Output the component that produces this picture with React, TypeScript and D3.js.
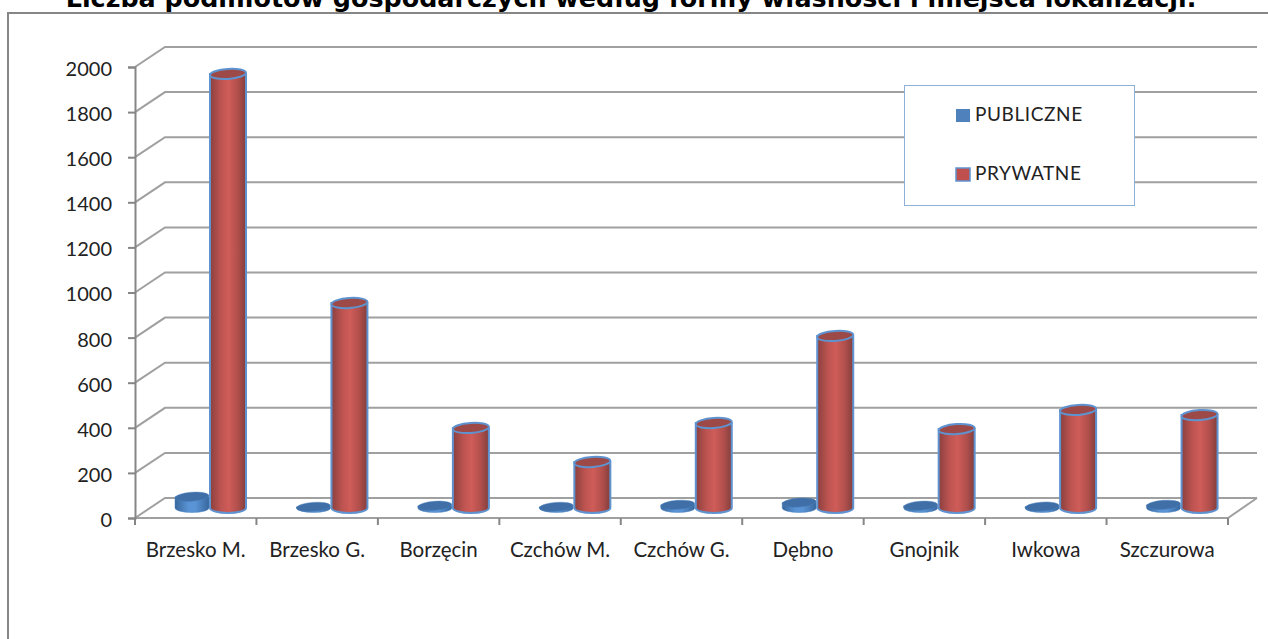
/**
 * 3D-look cylinder column chart: entities by ownership and location
 */
import { useEffect, useRef } from 'react';
import * as d3 from 'd3';

const categories = ['Brzesko M.', 'Brzesko G.', 'Borzęcin', 'Czchów M.', 'Czchów G.', 'Dębno', 'Gnojnik', 'Iwkowa', 'Szczurowa'];
const publiczne = [50, 5, 10, 5, 14, 24, 10, 6, 14];
const prywatne = [1925, 909, 355, 204, 377, 763, 350, 435, 412];
const yTicks = [0, 200, 400, 600, 800, 1000, 1200, 1400, 1600, 1800, 2000];
const seriesNames = ['PUBLICZNE', 'PRYWATNE'];
const title = 'Liczba podmiotów gospodarczych według formy własności i miejsca lokalizacji.';

const WIDTH = 1268;
const HEIGHT = 639;
const LABEL_FONT = 'Lato, "Open Sans", sans-serif';

export default function App() {
  const svgRef = useRef<SVGSVGElement>(null);

  useEffect(() => {
    if (!svgRef.current) return;
    const svg = d3.select(svgRef.current);
    svg.selectAll('*').remove();

    const x = d3.scaleBand<string>().domain(categories).range([135, 1228]);
    const y = d3.scaleLinear().domain([0, 2000]).range([518, 67]);
    const depthX = 30;
    const depthY = -20;
    const barPlane = -10; // bars stand between front edge and back wall

    const defs = svg.append('defs');
    const cyl = (id: string, stops: [number, string][]) => {
      const g = defs.append('linearGradient').attr('id', id);
      stops.forEach(([o, c]) => g.append('stop').attr('offset', `${o}%`).attr('stop-color', c));
    };
    cyl('red-side', [[0, '#8a403e'], [30, '#bd5451'], [52, '#cf5c58'], [78, '#b04f4c'], [100, '#823e3c']]);
    cyl('blue-side', [[0, '#38679d'], [40, '#5a94d6'], [60, '#5a94d6'], [100, '#38679d']]);

    // Outer frame, open on the right and at the bottom
    svg.append('path')
      .attr('d', `M8,${HEIGHT}V13H${WIDTH}`)
      .attr('fill', 'none')
      .attr('stroke', '#868686')
      .attr('stroke-width', 2);

    svg.append('text')
      .attr('x', 631)
      .attr('y', 7)
      .attr('text-anchor', 'middle')
      .style('font-family', '"DejaVu Sans", Verdana, sans-serif')
      .style('font-weight', 700)
      .style('font-size', '25.4px')
      .text(title);

    // Gridlines: side wall diagonal then back wall
    svg.append('g')
      .selectAll('path')
      .data(yTicks)
      .join('path')
      .attr('d', d => `M135,${y(d)}L${135 + depthX},${y(d) + depthY}H1257`)
      .attr('fill', 'none')
      .attr('stroke', '#a0a0a0')
      .attr('stroke-width', 2);

    // Floor front and right edges
    svg.append('path')
      .attr('d', `M135,${y(0)}H1228L1257,${y(0) + depthY}`)
      .attr('fill', 'none')
      .attr('stroke', '#a0a0a0')
      .attr('stroke-width', 2);

    const yAxis = d3.axisLeft(y).tickValues(yTicks).tickSize(7).tickPadding(16).tickFormat(d3.format('d') as any);
    const yG = svg.append('g').attr('transform', 'translate(135,0)').call(yAxis);
    const xAxis = d3.axisBottom(x).tickSize(0).tickPadding(24);
    const xG = svg.append('g').attr('transform', `translate(0,${y(0)})`).call(xAxis);
    xG.select('.domain').remove();
    yG.select('.domain').attr('stroke', '#868686').attr('stroke-width', 2);
    yG.selectAll('line').attr('stroke', '#868686').attr('stroke-width', 2);
    yG.selectAll('text').attr('dy', '0.42em').style('font-family', LABEL_FONT).style('font-size', '20px').attr('fill', '#222');
    xG.selectAll('text').style('font-family', LABEL_FONT).style('font-size', '20.5px').attr('fill', '#222');

    // Category separators on the floor edge
    svg.append('g')
      .selectAll('line')
      .data(d3.range(categories.length + 1))
      .join('line')
      .attr('x1', i => 135 + i * x.step())
      .attr('x2', i => 135 + i * x.step())
      .attr('y1', y(0))
      .attr('y2', y(0) + 7)
      .attr('stroke', '#868686')
      .attr('stroke-width', 2);

    // A cylinder: side + bottom arc as one path, lid as an ellipse
    const drawCylinder = (
      g: d3.Selection<SVGGElement, unknown, null, undefined>,
      cx: number, base: number, top: number, rx: number, ry: number,
      side: string, lid: string, stroke: string, strokeW: number,
    ) => {
      g.append('path')
        .attr('d', `M${cx - rx},${top}V${base}A${rx},${ry} 0 0 0 ${cx + rx},${base}V${top}Z`)
        .attr('fill', `url(#${side})`)
        .attr('stroke', stroke)
        .attr('stroke-width', strokeW);
      g.append('ellipse')
        .attr('cx', cx)
        .attr('cy', top)
        .attr('rx', rx)
        .attr('ry', ry)
        .attr('transform', `rotate(-4 ${cx} ${top})`)
        .attr('fill', lid)
        .attr('stroke', stroke)
        .attr('stroke-width', strokeW);
    };

    const bars = svg.append('g');
    categories.forEach((cat, i) => {
      const left = x(cat)! + 40;
      drawCylinder(bars, left + 17, y(0) + barPlane, y(publiczne[i]) + barPlane, 17, 4.5,
        'blue-side', '#3f6fa6', '#4a80bd', 0.5);
      drawCylinder(bars, left + 53, y(0) + barPlane, y(prywatne[i]) + barPlane, 18, 5,
        'red-side', '#9c4947', '#5f93d0', 2);
    });

    // Legend
    const legend = svg.append('g');
    legend.append('rect')
      .attr('x', 904.5)
      .attr('y', 85.5)
      .attr('width', 230)
      .attr('height', 120)
      .attr('fill', '#fff')
      .attr('stroke', '#8fb1d9')
      .attr('stroke-width', 1);
    const legendY = d3.scalePoint<string>().domain(seriesNames).range([115, 174]);
    seriesNames.forEach((name, i) => {
      legend.append('rect')
        .attr('x', 956)
        .attr('y', legendY(name)! - 6)
        .attr('width', 14)
        .attr('height', 13)
        .attr('fill', i === 0 ? '#4f81bd' : '#c0504d')
        .attr('stroke', i === 0 ? 'none' : '#5f93d0')
        .attr('stroke-width', 1.5);
      legend.append('text')
        .attr('x', 975)
        .attr('y', legendY(name)! + 6)
        .style('font-family', LABEL_FONT)
        .style('font-size', '19px')
        .style('letter-spacing', '0.6px')
        .attr('fill', '#222')
        .text(name);
    });
  }, []);

  return (
    <svg
      ref={svgRef}
      width={WIDTH}
      height={HEIGHT}
      style={{ position: 'absolute', left: 0, top: 0, background: '#fff', display: 'block' }}
    />
  );
}
